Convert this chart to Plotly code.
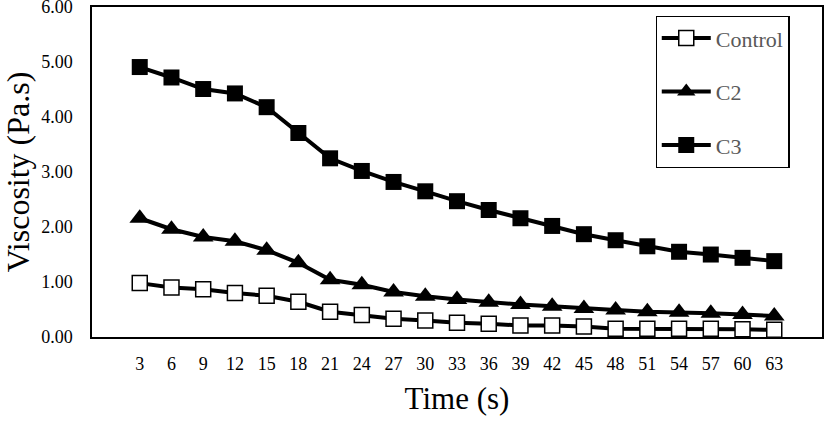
import plotly.graph_objects as go

time_s = ["3", "6", "9", "12", "15", "18", "21", "24", "27", "30", "33",
          "36", "39", "42", "45", "48", "51", "54", "57", "60", "63"]
control = [0.98, 0.90, 0.87, 0.80, 0.75, 0.64, 0.46, 0.40, 0.33, 0.30, 0.26,
           0.24, 0.21, 0.21, 0.19, 0.15, 0.15, 0.15, 0.15, 0.14, 0.13]
c2 = [2.16, 1.96, 1.82, 1.74, 1.58, 1.35, 1.04, 0.95, 0.82, 0.74, 0.68,
      0.63, 0.59, 0.56, 0.52, 0.49, 0.46, 0.45, 0.43, 0.41, 0.38]
c3 = [4.91, 4.72, 4.51, 4.43, 4.18, 3.71, 3.25, 3.02, 2.82, 2.65, 2.47,
      2.31, 2.16, 2.02, 1.87, 1.76, 1.65, 1.55, 1.50, 1.44, 1.38]
y_ticks = [0, 1, 2, 3, 4, 5, 6]
y_tick_labels = ["0.00", "1.00", "2.00", "3.00", "4.00", "5.00", "6.00"]

FONT = "Liberation Serif, Times New Roman, serif"

fig = go.Figure()
fig.add_trace(go.Scatter(
    x=time_s, y=control, name="Control", mode="lines+markers", legendgroup="a",
    line=dict(color="black", width=4),
    marker=dict(symbol="square", size=15, color="white", line=dict(color="black", width=1.5)),
))
fig.add_trace(go.Scatter(
    x=time_s, y=c2, name="C2", mode="lines+markers", legendgroup="b",
    line=dict(color="black", width=4),
    marker=dict(symbol="triangle-up", size=18, color="black", line=dict(color="black", width=0)),
))
fig.add_trace(go.Scatter(
    x=time_s, y=c3, name="C3", mode="lines+markers", legendgroup="c",
    line=dict(color="black", width=4),
    marker=dict(symbol="square", size=16, color="black", line=dict(color="black", width=0)),
))

fig.update_layout(
    width=827, height=421,
    margin=dict(l=92, r=5, t=7, b=84),
    paper_bgcolor="white", plot_bgcolor="white",
    font=dict(family=FONT, color="black", size=18),
    showlegend=True,
    legend=dict(
        x=0.772, y=0.973, xanchor="left", yanchor="top",
        bgcolor="white", bordercolor="black", borderwidth=1.2,
        font=dict(family=FONT, size=22, color="#595959"),
        tracegroupgap=22, itemwidth=49,
        entrywidth=108, entrywidthmode="pixels",
    ),
    xaxis=dict(
        type="category", showgrid=False, zeroline=False, automargin=False,
        showline=True, linecolor="black", linewidth=1.5, mirror=True,
        ticks="", ticklabelstandoff=10,
        tickfont=dict(family=FONT, size=18, color="black"),
        title=dict(text="Time (s)", font=dict(family=FONT, size=31, color="black"), standoff=14),
    ),
    yaxis=dict(
        range=[0, 6.002], tickvals=y_ticks, ticktext=y_tick_labels,
        showgrid=False, zeroline=False, automargin=False,
        showline=True, linecolor="black", linewidth=1.5, mirror=True,
        ticks="", ticklabelstandoff=14, ticklabeloverflow="allow",
        tickfont=dict(family=FONT, size=18, color="black"),
        title=dict(text="Viscosity (Pa.s)", font=dict(family=FONT, size=32, color="black"), standoff=22),
    ),
)

fig.write_html("out.html", config={"displayModeBar": False},
               post_script="document.body.style.margin='0';")
